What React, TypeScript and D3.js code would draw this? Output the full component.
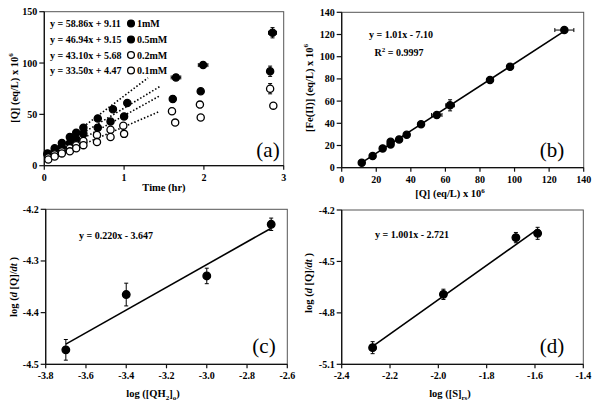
import React from 'react';
import * as d3 from 'd3';

// ---------- Panel (a) data ----------
const aTicksX = [0, 1, 2, 3];
const aTicksY = [0, 50, 100, 150];
const t1mM = [0.04, 0.13, 0.22, 0.32, 0.4, 0.49, 0.67, 0.86, 1.04, 1.65, 1.99, 2.86];
const v1mM = [12, 17, 22, 28, 32, 37, 46, 55, 61, 86, 98, 129.5];
const xe1mM = [0, 0, 0, 0, 0, 0, 0, 0, 0, 0.06, 0.06, 0.05];
const ye1mM = [0, 0, 0, 0, 0, 0, 0, 0, 0, 2, 2, 5];
const t05mM = [0.04, 0.13, 0.22, 0.32, 0.4, 0.49, 0.67, 0.83, 1.0, 1.61, 1.96, 2.83];
const v05mM = [11, 14, 18, 22, 26, 31, 37, 43, 48, 65, 72.5, 92];
const ye05mM = [0, 0, 0, 0, 0, 0, 0, 0, 0, 3, 0, 5];
const t02mM = [0.05, 0.13, 0.22, 0.32, 0.4, 0.49, 0.66, 0.83, 0.99, 1.6, 1.95, 2.83];
const v02mM = [8, 11, 14, 17, 20, 24, 30, 35, 39, 53, 59.5, 75];
const ye02mM = [0, 0, 0, 0, 0, 0, 0, 0, 0, 3, 3, 5];
const t01mM = [0.05, 0.13, 0.22, 0.32, 0.4, 0.49, 0.66, 0.83, 1.0, 1.64, 1.96, 2.87];
const v01mM = [6, 9, 12, 14, 17, 20, 23, 28, 31, 42, 47, 58.5];
const aSlopes = [58.86, 46.94, 43.10, 33.50];
const aIntercepts = [9.11, 9.15, 5.68, 4.47];
const aFitEnd = [1.3, 1.45, 1.45, 1.45];
const aLabels = ['1mM', '0.5mM', '0.2mM', '0.1mM'];
const aEqs = ['y = 58.86x + 9.11', 'y = 46.94x + 9.15', 'y = 43.10x + 5.68', 'y = 33.50x + 4.47'];
const aFilled = [true, true, false, false];

// ---------- Panel (b) data ----------
const bTicks = [0, 20, 40, 60, 80, 100, 120, 140];
const bX = [11.6, 17.9, 23.7, 28.3, 28.3, 33.2, 37.6, 45.9, 55, 62.7, 85.8, 97.4, 128.8];
const bY = [4.5, 10.5, 17.4, 21.0, 23.4, 25.5, 29.7, 39.1, 47.5, 56.2, 79, 91, 124];
const bXErr = [0, 0, 0, 0, 0, 0, 0, 0, 3, 2.5, 0, 0, 5.5];
const bYErr = [0, 0, 0, 0, 0, 0, 0, 0, 0, 5, 0, 0, 2];
const bSlope = 1.01;
const bIntercept = -7.10;

// ---------- Panel (c) data ----------
const cTicksX = [-3.8, -3.6, -3.4, -3.2, -3.0, -2.8, -2.6];
const cTicksY = [-4.5, -4.4, -4.3, -4.2];
const cX = [-3.7, -3.4, -3.0, -2.68];
const cY = [-4.472, -4.365, -4.329, -4.229];
const cErr = [0.02, 0.022, 0.015, 0.012];
const cSlope = 0.220;
const cIntercept = -3.647;

// ---------- Panel (d) data ----------
const dTicksX = [-2.4, -2.2, -2.0, -1.8, -1.6, -1.4];
const dTicksY = [-5.1, -4.8, -4.5, -4.2];
const dX = [-2.272, -1.979, -1.679, -1.589];
const dY = [-5.003, -4.692, -4.361, -4.336];
const dErr = [0.035, 0.03, 0.03, 0.035];
const dSlope = 1.001;
const dIntercept = -2.721;

const FONT = '"Liberation Serif", "Times New Roman", serif';

type Sc = d3.ScaleLinear<number, number>;

function Frame({ x, y, xTicks, yTicks, fmt }: { x: Sc; y: Sc; xTicks: number[]; yTicks: number[]; fmt: (v: number) => string }) {
  const [x0, x1] = x.range();
  const [y0, y1] = y.range();
  return (
    <g>
      <rect x={x0} y={y1} width={x1 - x0} height={y0 - y1} fill="none" stroke="#555" strokeWidth={1} />
      <line x1={x0} x2={x0} y1={y1} y2={y0} stroke="#111" strokeWidth={1.3} />
      <line x1={x0} x2={x1} y1={y0} y2={y0} stroke="#111" strokeWidth={1.3} />
      {xTicks.map((t, i) => (
        <g key={'x' + i}>
          <line x1={x(t)} x2={x(t)} y1={y0} y2={y0 + 4} stroke="#111" strokeWidth={1.2} />
          <text x={x(t)} y={y0 + 15} textAnchor="middle" fontSize={10} fontWeight="bold" fontFamily={FONT}>{fmt(t)}</text>
        </g>
      ))}
      {yTicks.map((t, i) => (
        <g key={'y' + i}>
          <line x1={x0 - 5} x2={x0} y1={y(t)} y2={y(t)} stroke="#111" strokeWidth={1.2} />
          <text x={x0 - 7} y={y(t) + 3.5} textAnchor="end" fontSize={10} fontWeight="bold" fontFamily={FONT}>{fmt(t)}</text>
        </g>
      ))}
    </g>
  );
}

function Point({ cx, cy, filled, r = 3.6 }: { cx: number; cy: number; filled: boolean; r?: number }) {
  return <circle cx={cx} cy={cy} r={r} fill={filled ? '#000' : '#fff'} stroke="#000" strokeWidth={1.3} />;
}

function ErrBars({ cx, cy, xl, xr, yt, yb }: { cx: number; cy: number; xl?: number; xr?: number; yt?: number; yb?: number }) {
  const els: React.ReactNode[] = [];
  if (xl !== undefined && xr !== undefined && xr - xl > 0.5) {
    els.push(<line key="h" x1={xl} x2={xr} y1={cy} y2={cy} stroke="#000" strokeWidth={1} />);
    els.push(<line key="hl" x1={xl} x2={xl} y1={cy - 2} y2={cy + 2} stroke="#000" strokeWidth={1} />);
    els.push(<line key="hr" x1={xr} x2={xr} y1={cy - 2} y2={cy + 2} stroke="#000" strokeWidth={1} />);
  }
  if (yt !== undefined && yb !== undefined && yb - yt > 0.5) {
    els.push(<line key="v" x1={cx} x2={cx} y1={yt} y2={yb} stroke="#000" strokeWidth={1} />);
    els.push(<line key="vt" x1={cx - 2} x2={cx + 2} y1={yt} y2={yt} stroke="#000" strokeWidth={1} />);
    els.push(<line key="vb" x1={cx - 2} x2={cx + 2} y1={yb} y2={yb} stroke="#000" strokeWidth={1} />);
  }
  return <g>{els}</g>;
}

export default function App() {
  // scales
  const ax = d3.scaleLinear().domain([0, 3]).range([44.3, 283.7]);
  const ay = d3.scaleLinear().domain([0, 150]).range([165.7, 11.7]);
  const bx = d3.scaleLinear().domain([0, 140]).range([341.7, 583.7]);
  const by = d3.scaleLinear().domain([0, 140]).range([167.7, 12.3]);
  const cx = d3.scaleLinear().domain([-3.8, -2.6]).range([45.7, 287.3]);
  const cy = d3.scaleLinear().domain([-4.5, -4.2]).range([364.3, 209.3]);
  const dx = d3.scaleLinear().domain([-2.4, -1.4]).range([341.7, 583.3]);
  const dy = d3.scaleLinear().domain([-5.1, -4.2]).range([364.3, 210]);

  const intFmt = d3.format('d');
  const decFmt = (v: number) => d3.format('.1f')(v).replace('−', '-');

  const aSeries = [
    { t: t1mM, v: v1mM, xe: xe1mM, ye: ye1mM },
    { t: t05mM, v: v05mM, xe: t05mM.map(() => 0), ye: ye05mM },
    { t: t02mM, v: v02mM, xe: t02mM.map(() => 0), ye: ye02mM },
    { t: t01mM, v: v01mM, xe: t01mM.map(() => 0), ye: v01mM.map(() => 0) },
  ];

  const lineGen = (xs: Sc, ys: Sc) => d3.line<[number, number]>().x(d => xs(d[0])).y(d => ys(d[1]));

  const legendRows = [23.5, 39.5, 55, 70.5];

  return (
    <svg width={600} height={405} style={{ position: 'absolute', left: 0, top: 0, background: '#fff' }} fontFamily={FONT}>
      <rect x={0} y={0} width={600} height={405} fill="#fff" />

      {/* ---------------- Panel (a) ---------------- */}
      <Frame x={ax} y={ay} xTicks={aTicksX} yTicks={aTicksY} fmt={intFmt} />
      {aSlopes.map((s, i) => (
        <path key={'fit' + i} d={lineGen(ax, ay)([[0, aIntercepts[i]], [aFitEnd[i], s * aFitEnd[i] + aIntercepts[i]]]) || ''}
          fill="none" stroke="#000" strokeWidth={1.6} strokeDasharray="1.5,2" />
      ))}
      {aSeries.map((s, si) => (
        <g key={'as' + si}>
          {s.t.map((t, i) => (
            <g key={i}>
              <ErrBars cx={ax(t)} cy={ay(s.v[i])} xl={ax(t - s.xe[i])} xr={ax(t + s.xe[i])} yt={ay(s.v[i] + s.ye[i])} yb={ay(s.v[i] - s.ye[i])} />
              <Point cx={ax(t)} cy={ay(s.v[i])} filled={aFilled[si]} />
            </g>
          ))}
        </g>
      ))}
      {aEqs.map((eq, i) => (
        <g key={'leg' + i}>
          <rect x={48} y={legendRows[i] - 7} width={112} height={13} fill="#fff" />
          <text x={50} y={legendRows[i] + 3.5} fontSize={10} fontWeight="bold">{eq}</text>
          <Point cx={131} cy={legendRows[i]} filled={aFilled[i]} r={3.4} />
          <text x={137} y={legendRows[i] + 3.5} fontSize={10} fontWeight="bold">{aLabels[i]}</text>
        </g>
      ))}
      <text x={268} y={157} fontSize={21} textAnchor="middle">(a)</text>
      <text x={164} y={191} fontSize={10.5} fontWeight="bold" textAnchor="middle">Time (hr)</text>
      <text transform="translate(18,88) rotate(-90)" fontSize={10.5} fontWeight="bold" textAnchor="middle">
        [Q] (eq/L) x 10<tspan fontSize={7} dy={-5}>6</tspan>
      </text>

      {/* ---------------- Panel (b) ---------------- */}
      <Frame x={bx} y={by} xTicks={bTicks} yTicks={bTicks} fmt={intFmt} />
      <path d={lineGen(bx, by)([[bX[0], bSlope * bX[0] + bIntercept], [bX[bX.length - 1], bSlope * bX[bX.length - 1] + bIntercept]]) || ''}
        fill="none" stroke="#000" strokeWidth={1.6} />
      {bX.map((xv, i) => (
        <g key={'b' + i}>
          <ErrBars cx={bx(xv)} cy={by(bY[i])} xl={bx(xv - bXErr[i])} xr={bx(xv + bXErr[i])} yt={by(bY[i] + bYErr[i])} yb={by(bY[i] - bYErr[i])} />
          <Point cx={bx(xv)} cy={by(bY[i])} filled={true} />
        </g>
      ))}
      <text x={401} y={38} fontSize={10} fontWeight="bold" textAnchor="middle">y = 1.01x - 7.10</text>
      <text x={399} y={56} fontSize={10} fontWeight="bold" textAnchor="middle">R<tspan fontSize={7} dy={-4}>2</tspan><tspan dy={4}> = 0.9997</tspan></text>
      <text x={552} y={157} fontSize={21} textAnchor="middle">(b)</text>
      <text x={450} y={197} fontSize={10.5} fontWeight="bold" textAnchor="middle">
        [Q] (eq/L) x 10<tspan fontSize={7} dy={-4}>6</tspan>
      </text>
      <text transform="translate(313,88) rotate(-90)" fontSize={10.5} fontWeight="bold" textAnchor="middle">
        [Fe(II)] (eq/L) x 10<tspan fontSize={7} dy={-5}>6</tspan>
      </text>

      {/* ---------------- Panel (c) ---------------- */}
      <Frame x={cx} y={cy} xTicks={cTicksX} yTicks={cTicksY} fmt={decFmt} />
      <path d={lineGen(cx, cy)([[cX[0], cSlope * cX[0] + cIntercept], [cX[cX.length - 1], cSlope * cX[cX.length - 1] + cIntercept]]) || ''}
        fill="none" stroke="#000" strokeWidth={1.6} />
      {cX.map((xv, i) => (
        <g key={'c' + i}>
          <ErrBars cx={cx(xv)} cy={cy(cY[i])} yt={cy(cY[i] + cErr[i])} yb={cy(cY[i] - cErr[i])} />
          <Point cx={cx(xv)} cy={cy(cY[i])} filled={true} r={3.8} />
        </g>
      ))}
      <text x={116} y={239} fontSize={10} fontWeight="bold" textAnchor="middle">y = 0.220x - 3.647</text>
      <text x={264} y={353} fontSize={21} textAnchor="middle">(c)</text>
      <text x={153} y={397} fontSize={10.5} fontWeight="bold" textAnchor="middle">
        log ([QH<tspan fontSize={7} dy={3}>2</tspan><tspan dy={-3}>]</tspan><tspan fontSize={7} dy={3}>o</tspan><tspan dy={-3}>)</tspan>
      </text>
      <text transform="translate(17,287) rotate(-90)" fontSize={10.5} fontWeight="bold" textAnchor="middle">
        log (<tspan fontStyle="italic">d</tspan> [Q]/<tspan fontStyle="italic">dt</tspan> )
      </text>

      {/* ---------------- Panel (d) ---------------- */}
      <Frame x={dx} y={dy} xTicks={dTicksX} yTicks={dTicksY} fmt={decFmt} />
      <path d={lineGen(dx, dy)([[dX[0], dSlope * dX[0] + dIntercept], [dX[dX.length - 1], dSlope * dX[dX.length - 1] + dIntercept]]) || ''}
        fill="none" stroke="#000" strokeWidth={1.6} />
      {dX.map((xv, i) => (
        <g key={'d' + i}>
          <ErrBars cx={dx(xv)} cy={dy(dY[i])} yt={dy(dY[i] + dErr[i])} yb={dy(dY[i] - dErr[i])} />
          <Point cx={dx(xv)} cy={dy(dY[i])} filled={true} r={3.8} />
        </g>
      ))}
      <text x={412} y={238} fontSize={10} fontWeight="bold" textAnchor="middle">y = 1.001x - 2.721</text>
      <text x={552} y={353} fontSize={21} textAnchor="middle">(d)</text>
      <text x={450} y={397} fontSize={10.5} fontWeight="bold" textAnchor="middle">
        log ([S]<tspan fontSize={7} dy={3}>rs</tspan><tspan dy={-3}>)</tspan>
      </text>
      <text transform="translate(312,283) rotate(-90)" fontSize={10.5} fontWeight="bold" textAnchor="middle">
        log (<tspan fontStyle="italic">d</tspan> [Q]/<tspan fontStyle="italic">dt</tspan> )
      </text>
    </svg>
  );
}
